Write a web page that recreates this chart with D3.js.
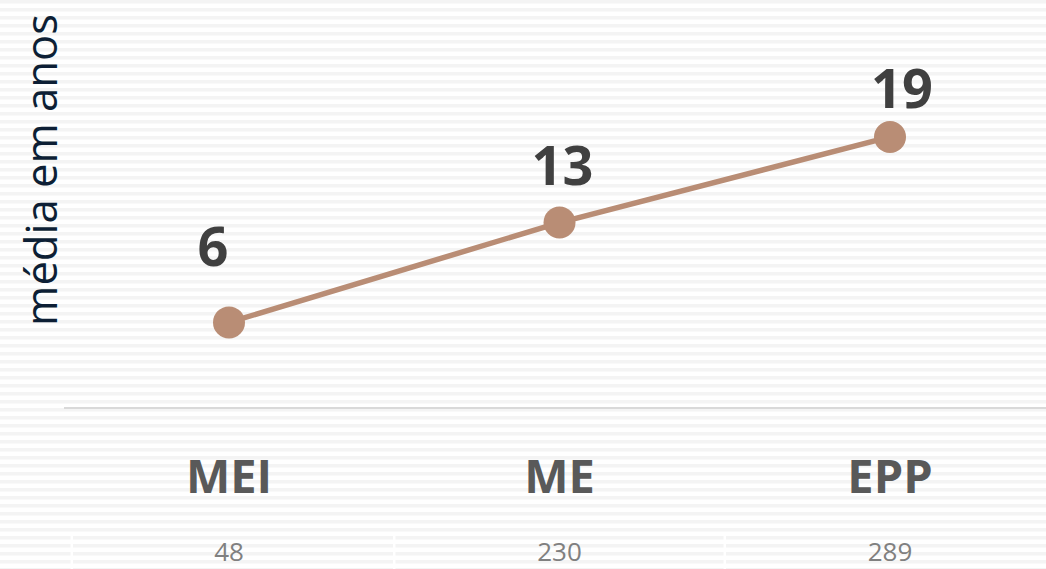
<!DOCTYPE html>
<html>
<head>
<meta charset="utf-8">
<script src="https://cdn.jsdelivr.net/npm/d3@7"></script>
<style>
  html, body { margin: 0; padding: 0; background: #fff; }
  svg { display: block; }
</style>
</head>
<body>
<svg id="chart" width="1046" height="569"></svg>
<script>
// Categories, mean age (years) per company size, and sample counts
const categories = ["MEI", "ME", "EPP"];
const meanYears = [6, 13, 19];
const sampleSizes = [48, 230, 289];
const yTitle = "média em anos";

// Label nudges relative to each point (dx, dy)
const labelNudge = [[-16, -56], [3, -38], [12, -29]];

const W = 1046, H = 569;
const svg = d3.select("#chart");
const font = "'Open Sans', 'Noto Sans', sans-serif";

// Striped background
const defs = svg.append("defs");
const pat = defs.append("pattern")
  .attr("id", "stripes").attr("patternUnits", "userSpaceOnUse")
  .attr("width", 8).attr("height", 8);
pat.append("rect").attr("width", 8).attr("height", 8).attr("fill", "#ffffff");
pat.append("rect").attr("width", 8).attr("height", 3.5).attr("fill", "#f4f4f4");
svg.append("rect").attr("width", W).attr("height", H).attr("fill", "url(#stripes)");

// Scales
const x = d3.scalePoint().domain(categories).range([229, 890]);
const y = d3.scaleLinear().domain([0, 28.6]).range([408, 0]);

// Category axis line
svg.append("line")
  .attr("x1", 64).attr("x2", W)
  .attr("y1", y(0)).attr("y2", y(0))
  .attr("stroke", "#d9d9d9").attr("stroke-width", 2);

// Category labels
svg.append("g").selectAll("text").data(categories).join("text")
  .attr("x", d => x(d)).attr("y", 493)
  .attr("text-anchor", "middle")
  .attr("font-family", font).attr("font-weight", 700)
  .attr("font-size", 47).attr("fill", "#595959")
  .text(d => d);

// Table column separators
const step = x.step();
const seps = [x(categories[0]) - step / 2 + 8, ...categories.slice(0, 2).map(c => x(c) + step / 2)];
svg.append("g").selectAll("line").data(seps).join("line")
  .attr("x1", d => d).attr("x2", d => d)
  .attr("y1", 535).attr("y2", H)
  .attr("stroke", "#ffffff").attr("stroke-width", 2.5);

// Sample counts row
svg.append("g").selectAll("text").data(sampleSizes).join("text")
  .attr("x", (d, i) => x(categories[i])).attr("y", 561)
  .attr("text-anchor", "middle")
  .attr("font-family", font).attr("font-size", 26).attr("fill", "#808080")
  .text(d => d);

// Line and markers
const pts = categories.map((c, i) => ({ c, v: meanYears[i], i }));
svg.append("path")
  .datum(pts)
  .attr("fill", "none").attr("stroke", "#b98d75").attr("stroke-width", 5.5)
  .attr("d", d3.line().x(d => x(d.c)).y(d => y(d.v)));

svg.append("g").selectAll("circle").data(pts).join("circle")
  .attr("cx", d => x(d.c)).attr("cy", d => y(d.v)).attr("r", 16)
  .attr("fill", "#b98d75");

// Value labels
svg.append("g").selectAll("text").data(pts).join("text")
  .attr("x", d => x(d.c) + labelNudge[d.i][0])
  .attr("y", d => y(d.v) + labelNudge[d.i][1])
  .attr("text-anchor", "middle")
  .attr("font-family", font).attr("font-weight", 700)
  .attr("font-size", 54).attr("fill", "#404040")
  .text(d => d.v);

// Y-axis title, sized so it spans the plot height
const title = svg.append("text")
  .attr("transform", "translate(57,170) rotate(-90)")
  .attr("text-anchor", "middle")
  .attr("font-family", font).attr("font-size", 50).attr("fill", "#0d1f35")
  .text(yTitle);
const natural = title.node().getComputedTextLength();
title.attr("font-size", 50 * 312 / natural);
</script>
</body>
</html>
